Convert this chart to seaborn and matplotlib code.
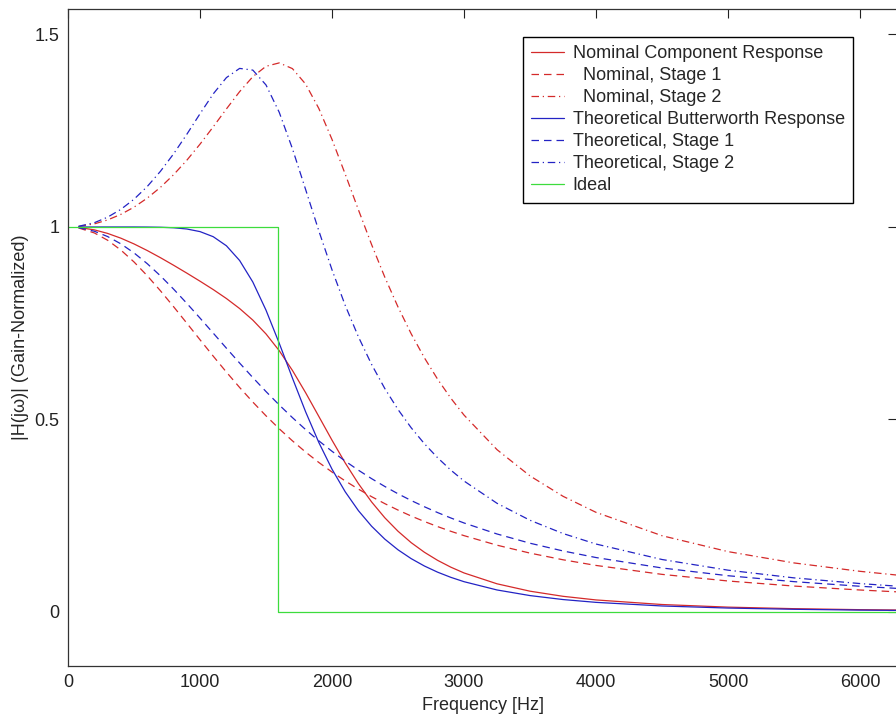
import matplotlib
matplotlib.use("Agg")
import matplotlib.pyplot as plt
import seaborn as sns

# frequency grid [Hz] the curves were read at
freq = [80, 200, 300, 400, 500, 600, 700, 800, 900, 1000, 1100, 1200, 1300, 1400,
        1500, 1600, 1700, 1800, 1900, 2000, 2100, 2200, 2300, 2400, 2500, 2600,
        2700, 2800, 2900, 3000, 3250, 3500, 3750, 4000, 4500, 5000, 5500, 6000, 6300]

nominal = [0.9988, 0.9925, 0.9833, 0.9710, 0.9560, 0.9389, 0.9203, 0.9006, 0.8802,
           0.8592, 0.8375, 0.8142, 0.7882, 0.7582, 0.7222, 0.6788, 0.6275, 0.5696,
           0.5080, 0.4462, 0.3871, 0.3333, 0.2858, 0.2447, 0.2097, 0.1800, 0.1551,
           0.1341, 0.1164, 0.1014, 0.0732, 0.0540, 0.0407, 0.0313, 0.0194, 0.0126,
           0.0086, 0.0060, 0.0050]
nominal_s1 = [0.9975, 0.9845, 0.9656, 0.9402, 0.9092, 0.8735, 0.8344, 0.7929, 0.7502,
              0.7071, 0.6646, 0.6231, 0.5832, 0.5453, 0.5095, 0.4759, 0.4446, 0.4154,
              0.3884, 0.3635, 0.3404, 0.3191, 0.2995, 0.2814, 0.2647, 0.2492, 0.2350,
              0.2218, 0.2096, 0.1983, 0.1735, 0.1529, 0.1356, 0.1209, 0.0977, 0.0805,
              0.0673, 0.0571, 0.0520]
nominal_s2 = [1.0013, 1.0081, 1.0183, 1.0327, 1.0515, 1.0749, 1.1029, 1.1358, 1.1733,
              1.2151, 1.2601, 1.3066, 1.3515, 1.3904, 1.4174, 1.4262, 1.4114, 1.3712,
              1.3079, 1.2274, 1.1373, 1.0446, 0.9542, 0.8696, 0.7922, 0.7224, 0.6601,
              0.6046, 0.5553, 0.5114, 0.4216, 0.3534, 0.3005, 0.2588, 0.1981, 0.1568,
              0.1274, 0.1056, 0.0952]
theory = [1.0000, 1.0000, 1.0000, 1.0000, 1.0000, 0.9998, 0.9993, 0.9980, 0.9948,
          0.9880, 0.9748, 0.9512, 0.9130, 0.8571, 0.7839, 0.6982, 0.6077, 0.5200,
          0.4403, 0.3709, 0.3122, 0.2632, 0.2227, 0.1892, 0.1615, 0.1385, 0.1194,
          0.1034, 0.0900, 0.0787, 0.0572, 0.0426, 0.0323, 0.0250, 0.0156, 0.0102,
          0.0070, 0.0049, 0.0041]
theory_s1 = [0.9982, 0.9889, 0.9752, 0.9563, 0.9327, 0.9048, 0.8732, 0.8386, 0.8017,
             0.7634, 0.7244, 0.6852, 0.6466, 0.6089, 0.5725, 0.5378, 0.5049, 0.4738,
             0.4446, 0.4174, 0.3919, 0.3683, 0.3463, 0.3260, 0.3070, 0.2895, 0.2733,
             0.2582, 0.2442, 0.2312, 0.2026, 0.1786, 0.1585, 0.1414, 0.1143, 0.0942,
             0.0788, 0.0668, 0.0609]
theory_s2 = [1.0018, 1.0112, 1.0255, 1.0457, 1.0721, 1.1050, 1.1445, 1.1900, 1.2407,
             1.2941, 1.3456, 1.3880, 1.4119, 1.4075, 1.3689, 1.2980, 1.2035, 1.0974,
             0.9901, 0.8887, 0.7964, 0.7147, 0.6429, 0.5803, 0.5259, 0.4784, 0.4370,
             0.4006, 0.3685, 0.3402, 0.2823, 0.2382, 0.2038, 0.1765, 0.1363, 0.1086,
             0.0886, 0.0738, 0.0666]

ideal_freq = [0, 1590, 1590, 6300]
ideal_gain = [1, 1, 0, 0]

labels = ["Nominal Component Response", "  Nominal, Stage 1", "  Nominal, Stage 2",
          "Theoretical Butterworth Response", "Theoretical, Stage 1",
          "Theoretical, Stage 2", "Ideal"]
xticks = [0, 1000, 2000, 3000, 4000, 5000, 6000]
yticks = [0, 0.5, 1, 1.5]
ytick_labels = ["0", "0.5", "1", "1.5"]

sns.set_style("white")
plt.rcParams['font.family'] = ['Liberation Sans', 'DejaVu Sans']

red = '#d42a2a'
blue = '#2323c4'
green = '#3ddc3d'
dashed = (0, (6, 4))
dashdot = (0, (6, 3, 1, 3))

fig = plt.figure(figsize=(8.96, 7.23), dpi=100)
ax = fig.add_axes([68 / 896, 1 - 666 / 723, 829.4 / 896, 657 / 723])

series = [
    (freq, nominal, red, '-'),
    (freq, nominal_s1, red, dashed),
    (freq, nominal_s2, red, dashdot),
    (freq, theory, blue, '-'),
    (freq, theory_s1, blue, dashed),
    (freq, theory_s2, blue, dashdot),
    (ideal_freq, ideal_gain, green, '-'),
]
for (x, y, col, ls), lab in zip(series, labels):
    sns.lineplot(x=x, y=y, color=col, linestyle=ls, linewidth=0.9, ax=ax,
                 label=lab, estimator=None, sort=False)

ax.set_xlim(0, 6283)
ax.set_ylim(-0.1403, 1.5662)
ax.set_xticks(xticks)
ax.set_xticklabels([str(t) for t in xticks])
ax.set_yticks(yticks)
ax.set_yticklabels(ytick_labels)
ax.tick_params(direction='in', length=6.5, width=0.8, top=True, right=True,
               labelsize=13, pad=6, colors='#222222')
for sp in ax.spines.values():
    sp.set_linewidth(0.9)
    sp.set_color('#333333')

ax.set_xlabel("Frequency [Hz]", fontsize=13)
ax.set_ylabel("|H(jω)| (Gain-Normalized)", fontsize=13)

leg = ax.legend(loc='upper left', bbox_to_anchor=(0.5486, 0.9574), frameon=True,
                fancybox=False, edgecolor='black', framealpha=1, fontsize=13,
                labelspacing=0.28, handlelength=1.8, handletextpad=0.5,
                borderpad=0.45, borderaxespad=0)
leg.get_frame().set_linewidth(1.0)

fig.savefig("out.png", dpi=100)
